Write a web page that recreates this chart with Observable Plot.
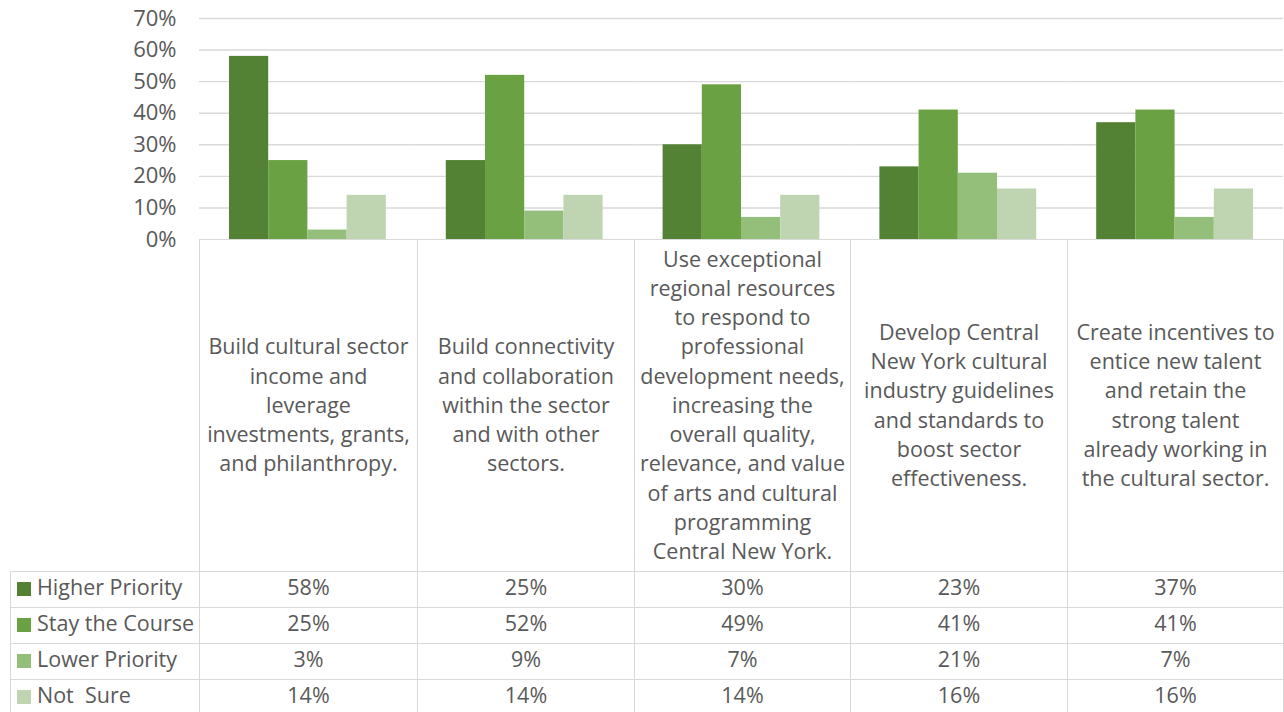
<!DOCTYPE html>
<html><head><meta charset="utf-8">
<script src="https://cdn.jsdelivr.net/npm/d3@7"></script>
<script src="https://cdn.jsdelivr.net/npm/@observablehq/plot@0.6"></script>
<style>
body{margin:0;background:#fff;}
#wrap{position:relative;width:1284px;height:712px;overflow:hidden;font-family:"Open Sans",sans-serif;color:#595959;background:#fff;}
#chart{position:absolute;left:0;top:0;}
table{position:absolute;left:10px;top:239px;border-collapse:collapse;table-layout:fixed;font-size:21.5px;color:#595959;}
td{border:1.5px solid #d9d9d9;padding:0;text-align:center;box-sizing:border-box;overflow:visible;}
td.blank{border:none;}
tr.cat td{height:332px;vertical-align:middle;line-height:29.2px;white-space:pre-line;padding-bottom:2px;}
tr.row td{height:36px;line-height:30px;white-space:pre;padding-bottom:5px;}
tr.row td.lab{text-align:left;white-space:pre;padding-left:6px;}
.key{display:inline-block;width:14px;height:14px;margin-right:6px;vertical-align:-1px;}
</style>
</head><body>
<div id="wrap"><div id="chart"></div><table id="tbl"></table></div>
<script>
const categories = [
  "Build cultural sector\nincome and\nleverage\ninvestments, grants,\nand philanthropy.",
  "Build connectivity\nand collaboration\nwithin the sector\nand with other\nsectors.",
  "Use exceptional\nregional resources\nto respond to\nprofessional\ndevelopment needs,\nincreasing the\noverall quality,\nrelevance, and value\nof arts and cultural\nprogramming\nCentral New York.",
  "Develop Central\nNew York cultural\nindustry guidelines\nand standards to\nboost sector\neffectiveness.",
  "Create incentives to\nentice new talent\nand retain the\nstrong talent\nalready working in\nthe cultural sector."
];
const series = ["Higher Priority", "Stay the Course", "Lower Priority", "Not  Sure"];
const colors = ["#548235", "#6aa142", "#93bf7b", "#bfd5b2"];
const higherPriority = [0.58, 0.25, 0.30, 0.23, 0.37];
const stayTheCourse  = [0.25, 0.52, 0.49, 0.41, 0.41];
const lowerPriority  = [0.03, 0.09, 0.07, 0.21, 0.07];
const notSure        = [0.14, 0.14, 0.14, 0.16, 0.16];
const yTicks = [0, 0.1, 0.2, 0.3, 0.4, 0.5, 0.6, 0.7];

const seriesValues = [higherPriority, stayTheCourse, lowerPriority, notSure];
const data = [];
categories.forEach((c, i) => series.forEach((s, j) => data.push({cat: c, series: s, value: seriesValues[j][i]})));

const fmt = d3.format(".0%");
const chart = Plot.plot({
  width: 1284, height: 252,
  marginTop: 18, marginBottom: 13, marginLeft: 199, marginRight: 1,
  style: {fontFamily: "Open Sans, sans-serif", fontSize: "22px", color: "#595959", background: "none", overflow: "visible"},
  fx: {domain: categories, padding: 0, axis: null, round: false},
  x: {domain: series, paddingInner: 0, paddingOuter: 0.765, axis: null, round: false},
  y: {domain: [0, 0.7], axis: null},
  color: {domain: series, range: colors},
  marks: [
    Plot.ruleY(yTicks.slice(1), {stroke: "#d9d9d9", strokeWidth: 1.4}),
    Plot.barY(data, {fx: "cat", x: "series", y: "value", fill: "series"}),
    Plot.axisY({ticks: yTicks, tickFormat: fmt, tickSize: 0, tickPadding: 23, fill: "#595959", fontSize: 22, label: null})
  ]
});
document.getElementById("chart").appendChild(chart);

// data table below the chart
const tbl = document.getElementById("tbl");
const colWidths = [189, 218, 217, 216, 217, 216];
const cg = document.createElement("colgroup");
colWidths.forEach(w => { const col = document.createElement("col"); col.style.width = w + "px"; cg.appendChild(col); });
tbl.appendChild(cg);
tbl.style.width = d3.sum(colWidths) + "px";
const trc = document.createElement("tr"); trc.className = "cat";
const blank = document.createElement("td"); blank.className = "blank"; trc.appendChild(blank);
categories.forEach(c => { const td = document.createElement("td"); td.textContent = c; trc.appendChild(td); });
tbl.appendChild(trc);
series.forEach((s, j) => {
  const tr = document.createElement("tr"); tr.className = "row";
  const lab = document.createElement("td"); lab.className = "lab";
  const key = document.createElement("span"); key.className = "key"; key.style.background = colors[j];
  lab.appendChild(key); lab.appendChild(document.createTextNode(s));
  tr.appendChild(lab);
  seriesValues[j].forEach(v => { const td = document.createElement("td"); td.textContent = fmt(v); tr.appendChild(td); });
  tbl.appendChild(tr);
});
</script>
</body></html>
